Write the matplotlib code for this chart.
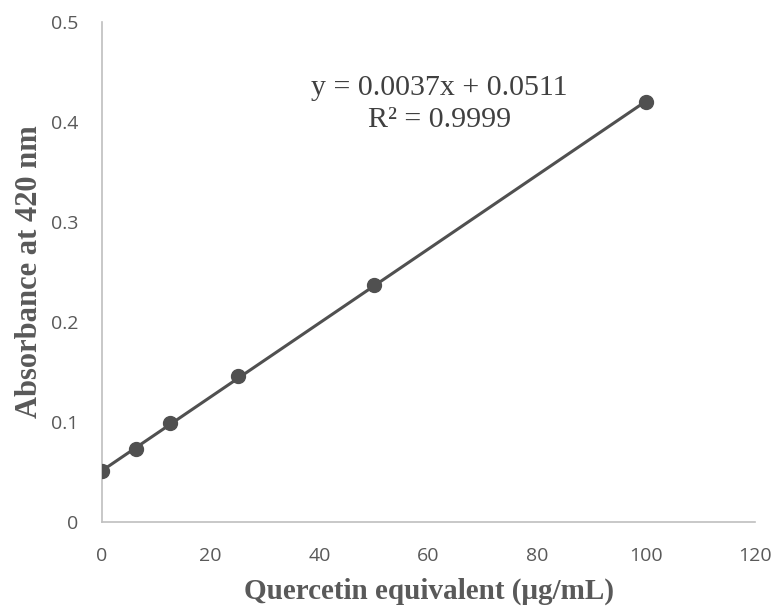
import numpy as np
import matplotlib.pyplot as plt

# calibration data
conc = [0, 6.25, 12.5, 25, 50, 100]
absorb = [0.051, 0.073, 0.099, 0.146, 0.237, 0.420]
slope = 0.0037
intercept = 0.0511
r2 = 0.9999

fig = plt.figure(figsize=(7.77, 6.14), dpi=100)
ax = fig.add_axes([0.131, 0.150, 0.841, 0.814])

# trendline
x_fit = np.array([min(conc), max(conc)])
ax.plot(x_fit, slope * x_fit + intercept, color='#505050', lw=2.2, zorder=2)
ax.scatter(conc, absorb, s=100, color='#505050', zorder=3)

ax.set_xlim(0, 120)
ax.set_ylim(0, 0.5)
ax.set_xticks([0, 20, 40, 60, 80, 100, 120])
ax.set_yticks([0, 0.1, 0.2, 0.3, 0.4, 0.5])
ax.set_yticklabels(['0', '0.1', '0.2', '0.3', '0.4', '0.5'])
ax.tick_params(axis='x', length=0, pad=18, labelsize=14, labelcolor='#595959')
ax.tick_params(axis='y', length=0, pad=17, labelsize=14, labelcolor='#595959')
for lbl in ax.get_xticklabels() + ax.get_yticklabels():
    lbl.set_family('Open Sans')

for s in ['top', 'right']:
    ax.spines[s].set_visible(False)
for s in ['left', 'bottom']:
    ax.spines[s].set_color('#bfbfbf')
    ax.spines[s].set_linewidth(1.2)

ax.set_xlabel('Quercetin equivalent (μg/mL)', family='Liberation Serif',
              fontweight='bold', fontsize=21, color='#595959', labelpad=9)
ax.set_ylabel('Absorbance at 420 nm', family='Liberation Serif',
              fontweight='bold', fontsize=22, color='#595959', labelpad=5)

ax.text(62, 0.418, f'y = {slope}x + {intercept}\nR² = {r2}', ha='center', va='center',
        family='Liberation Serif', fontsize=21.5, color='#404040', linespacing=1.3)

fig.savefig('out.png', dpi=100)
